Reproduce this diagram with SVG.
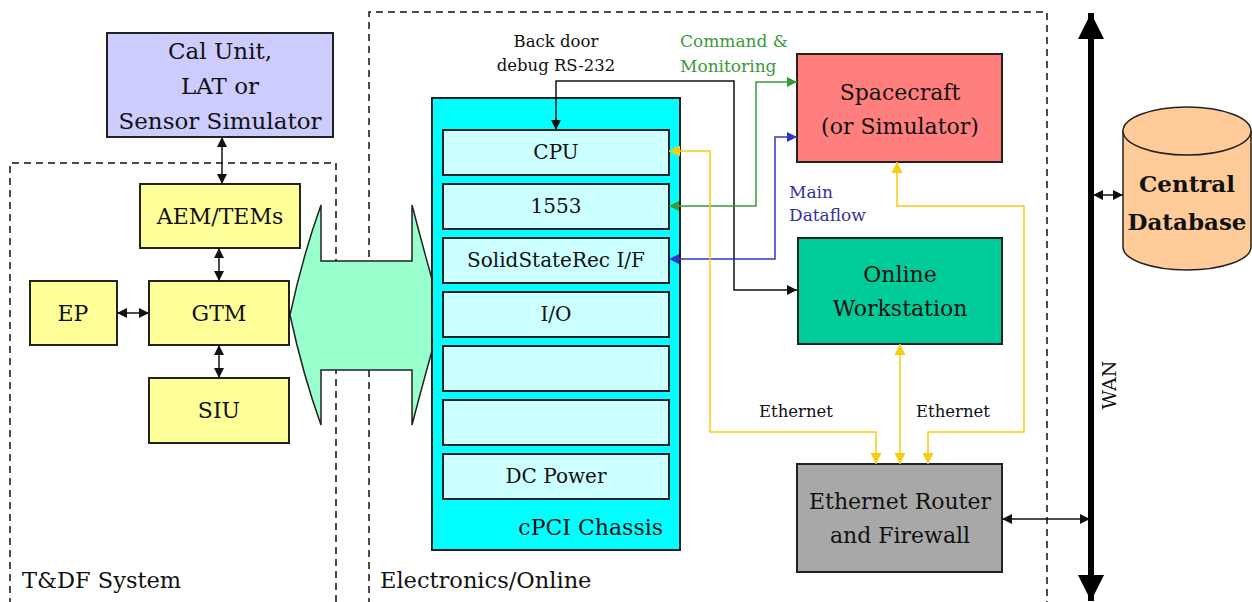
<svg xmlns="http://www.w3.org/2000/svg" width="1252" height="602" viewBox="0 0 1252 602" font-family="'DejaVu Serif','Liberation Serif',serif">
<style>
text{font-family:"DejaVu Serif","Liberation Serif",serif;fill:#111}
.box{stroke:#222;stroke-width:2}
.t22{font-size:22px;text-anchor:middle}
.t20{font-size:20px;text-anchor:middle}
.t16{font-size:16.5px;text-anchor:middle}
.dash{fill:none;stroke:#111;stroke-width:1.5;stroke-dasharray:7,5}
.blk{fill:none;stroke:#111;stroke-width:1.5}
.grn{fill:none;stroke:#3a9a3a;stroke-width:1.5}
.blu{fill:none;stroke:#3333cc;stroke-width:1.5}
.yel{fill:none;stroke:#f8cc10;stroke-width:1.5}
.slot{fill:#ccffff;stroke:#222;stroke-width:2}
</style>
<defs>
<marker id="ab" viewBox="0 0 10 10" refX="10" refY="5" markerWidth="10" markerHeight="10" markerUnits="userSpaceOnUse" orient="auto-start-reverse"><path d="M0,0L10,5L0,10z" fill="#111"/></marker>
<marker id="ag" viewBox="0 0 10 10" refX="10" refY="5" markerWidth="10" markerHeight="10" markerUnits="userSpaceOnUse" orient="auto-start-reverse"><path d="M0,0L10,5L0,10z" fill="#3a9a3a"/></marker>
<marker id="abl" viewBox="0 0 10 10" refX="10" refY="5" markerWidth="10" markerHeight="10" markerUnits="userSpaceOnUse" orient="auto-start-reverse"><path d="M0,0L10,5L0,10z" fill="#3333cc"/></marker>
<marker id="ay" viewBox="0 0 10 10" refX="10" refY="5" markerWidth="11" markerHeight="11" markerUnits="userSpaceOnUse" orient="auto-start-reverse"><path d="M0,0L10,5L0,10z" fill="#f8cc10"/></marker>
<marker id="aw" viewBox="0 0 10 10" refX="10" refY="5" markerWidth="26" markerHeight="26" markerUnits="userSpaceOnUse" orient="auto-start-reverse"><path d="M0,0L10,5L0,10z" fill="#000"/></marker>
</defs>
<rect width="1252" height="602" fill="#fff"/>

<g id="regions">
<path class="dash" d="M10,605V163H336V605"/>
<text x="22" y="588" style="font-size:22.5px">T&amp;DF System</text>
<path class="dash" d="M369,605V12H1047V605"/>
<text x="380" y="588" style="font-size:22.5px">Electronics/Online</text>
</g>

<g id="cal-unit">
<rect class="box" x="107" y="33" width="226" height="104" fill="#ccccff"/>
<text class="t22" x="220" y="59" style="font-size:23px">Cal Unit,</text>
<text class="t22" x="220" y="94" style="font-size:23px">LAT or</text>
<text class="t22" x="220" y="129" style="font-size:23px">Sensor Simulator</text>
</g>
<g id="aem-tems">
<rect class="box" x="140" y="184" width="160" height="64" fill="#ffff99"/>
<text class="t22" x="220" y="224">AEM/TEMs</text>
</g>
<g id="gtm">
<rect class="box" x="149" y="281" width="140" height="64" fill="#ffff99"/>
<text class="t22" x="219" y="321">GTM</text>
</g>
<g id="ep">
<rect class="box" x="30" y="281" width="87" height="64" fill="#ffff99"/>
<text class="t22" x="73" y="321">EP</text>
</g>
<g id="siu">
<rect class="box" x="149" y="378" width="140" height="65" fill="#ffff99"/>
<text class="t22" x="219" y="418">SIU</text>
</g>

<g id="bus-arrow">
<path d="M290,315Q303,255 321,205V261H412V205Q425,255 442,315Q425,375 412,425V370H321V425Q303,375 290,315Z" fill="#99ffcc" stroke="#222" stroke-width="1.5"/>
</g>

<g id="cpci-chassis">
<rect class="box" x="432" y="98" width="248" height="452" fill="#00ffff"/>
<text x="663" y="535" style="font-size:22px;text-anchor:end">cPCI Chassis</text>
</g>
<g id="slot-cpu"><rect class="slot" x="443" y="130" width="226" height="45"/><text class="t20" x="556" y="159">CPU</text></g>
<g id="slot-1553"><rect class="slot" x="443" y="184" width="226" height="45"/><text class="t20" x="556" y="213">1553</text></g>
<g id="slot-ssr"><rect class="slot" x="443" y="238" width="226" height="45"/><text class="t20" x="556" y="267">SolidStateRec I/F</text></g>
<g id="slot-io"><rect class="slot" x="443" y="292" width="226" height="45"/><text class="t20" x="556" y="321">I/O</text></g>
<g id="slot-empty1"><rect class="slot" x="443" y="346" width="226" height="45"/></g>
<g id="slot-empty2"><rect class="slot" x="443" y="400" width="226" height="45"/></g>
<g id="slot-dc"><rect class="slot" x="443" y="454" width="226" height="45"/><text class="t20" x="556" y="483">DC Power</text></g>

<g id="spacecraft">
<rect class="box" x="797" y="54" width="205" height="108" fill="#ff7f7f"/>
<text class="t22" x="900" y="100">Spacecraft</text>
<text class="t22" x="900" y="134">(or Simulator)</text>
</g>
<g id="online-workstation">
<rect class="box" x="798" y="238" width="204" height="106" fill="#00cc99"/>
<text class="t22" x="900" y="282">Online</text>
<text class="t22" x="900" y="316">Workstation</text>
</g>
<g id="router">
<rect class="box" x="797" y="464" width="205" height="108" fill="#a8a8a8"/>
<text class="t22" x="900" y="509">Ethernet Router</text>
<text class="t22" x="900" y="543">and Firewall</text>
</g>
<g id="central-database">
<path d="M1123,131V247A64,23 0 0 0 1251,247V131" fill="#ffcc99" stroke="#222" stroke-width="1.5"/>
<ellipse cx="1187" cy="131" rx="64" ry="24" fill="#ffcc99" stroke="#222" stroke-width="1.5"/>
<text x="1187" y="192" style="font-size:23px;font-weight:bold;text-anchor:middle">Central</text>
<text x="1187" y="230" style="font-size:23px;font-weight:bold;text-anchor:middle">Database</text>
</g>

<g id="connectors">
<line class="blk" x1="222" y1="137" x2="222" y2="184" marker-start="url(#ab)" marker-end="url(#ab)"/>
<line class="blk" x1="219" y1="248" x2="219" y2="281" marker-start="url(#ab)" marker-end="url(#ab)"/>
<line class="blk" x1="117" y1="313" x2="149" y2="313" marker-start="url(#ab)" marker-end="url(#ab)"/>
<line class="blk" x1="219" y1="345" x2="219" y2="378" marker-start="url(#ab)" marker-end="url(#ab)"/>

<polyline class="blk" points="797,290 734,290 734,81 556,81 556,130" marker-start="url(#ab)" marker-end="url(#ab)"/>
<text class="t16" x="556" y="47">Back door</text>
<text class="t16" x="556" y="71">debug RS-232</text>

<polyline class="grn" points="669,206 756,206 756,82 797,82" marker-start="url(#ag)" marker-end="url(#ag)"/>
<text x="680" y="47" style="font-size:17px;fill:#3a9a3a">Command &amp;</text>
<text x="680" y="72" style="font-size:17px;fill:#3a9a3a">Monitoring</text>

<polyline class="blu" points="669,259 775,259 775,137 797,137" marker-start="url(#abl)" marker-end="url(#abl)"/>
<text x="789" y="198" style="font-size:17px;fill:#333399">Main</text>
<text x="789" y="221" style="font-size:17px;fill:#333399">Dataflow</text>

<polyline class="yel" points="669,151 710,151 710,432 876,432 876,464" marker-start="url(#ay)" marker-end="url(#ay)"/>
<line class="yel" x1="900" y1="344" x2="900" y2="464" marker-start="url(#ay)" marker-end="url(#ay)"/>
<polyline class="yel" points="897,162 897,206 1024,206 1024,432 928,432 928,464" marker-start="url(#ay)" marker-end="url(#ay)"/>
<text x="796" y="417" style="font-size:16.5px;text-anchor:middle">Ethernet</text>
<text x="953" y="417" style="font-size:16.5px;text-anchor:middle">Ethernet</text>

<line class="blk" x1="1002" y1="519" x2="1090" y2="519" marker-start="url(#ab)" marker-end="url(#ab)"/>
<line class="blk" x1="1093" y1="195" x2="1123" y2="195" marker-start="url(#ab)" marker-end="url(#ab)"/>

<line x1="1091" y1="13" x2="1091" y2="601" stroke="#000" stroke-width="6" marker-start="url(#aw)" marker-end="url(#aw)"/>
<text x="1116" y="385" transform="rotate(-90 1116 385)" style="font-size:19px;text-anchor:middle">WAN</text>
</g>
</svg>
